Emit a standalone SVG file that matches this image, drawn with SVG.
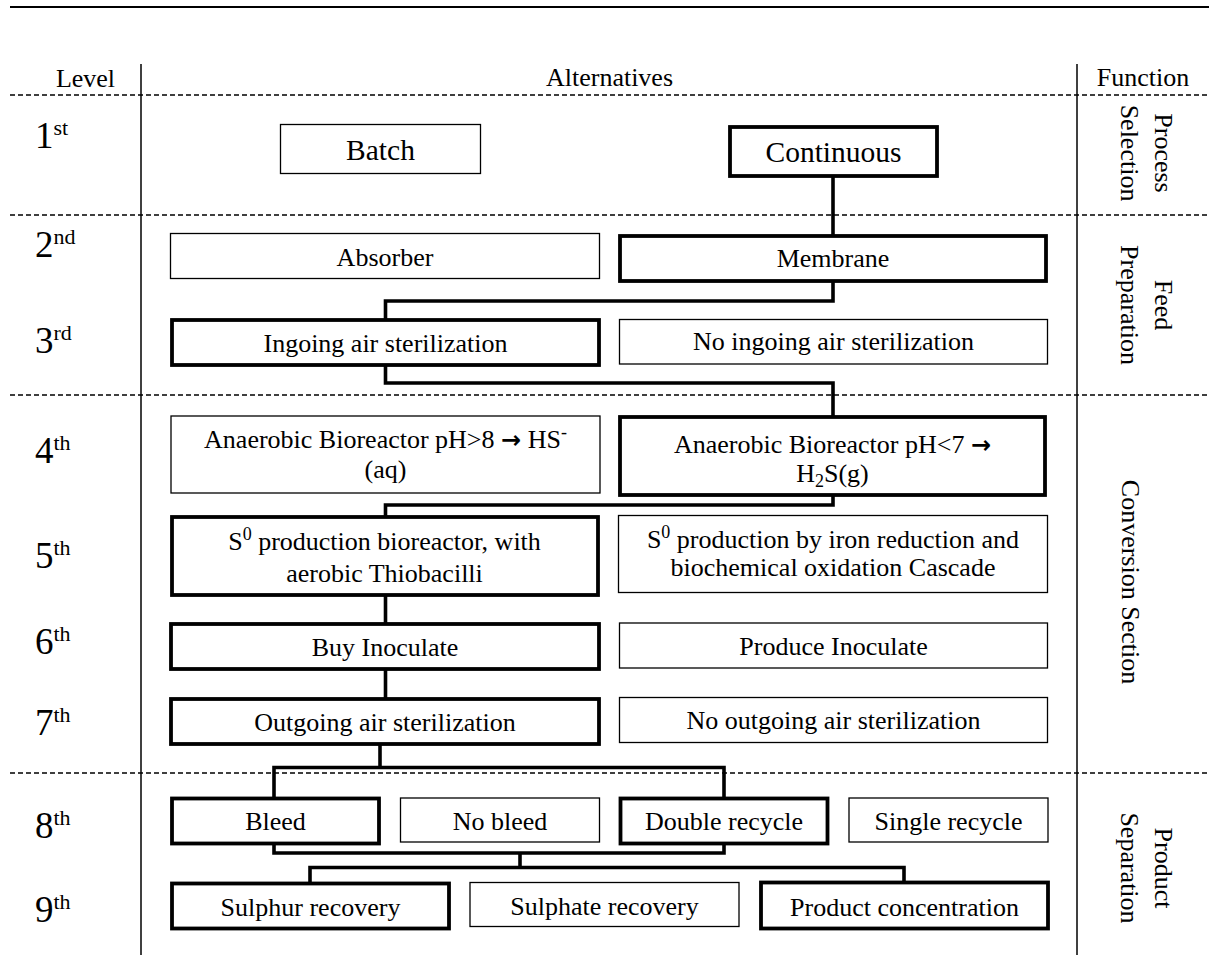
<svg xmlns="http://www.w3.org/2000/svg" width="1209" height="955" viewBox="0 0 1209 955">
  <style>
    .t { font-family: "Liberation Serif", "Times New Roman", serif; font-size: 26px; fill: #000; text-anchor: middle; }
    .big { font-size: 29.5px; }
    .lvl { font-family: "Liberation Serif", "Times New Roman", serif; font-size: 37px; fill: #000; text-anchor: start; }
    .sup { font-size: 22px; }
    .sm { font-size: 18px; }
    .arr { font-family: "DejaVu Sans", sans-serif; font-weight: bold; font-size: 24px; }
    .thin { fill: #fff; stroke: #000; stroke-width: 1.3; }
    .thick { fill: #fff; stroke: #000; stroke-width: 3.8; }
    .conn { fill: none; stroke: #000; stroke-width: 3.6; stroke-linejoin: miter; stroke-linecap: butt; }
    .dash { stroke: #000; stroke-width: 1.3; stroke-dasharray: 5 3; }
    .rule { stroke: #000; stroke-width: 1.5; }
  </style>

  <rect x="0" y="0" width="1209" height="955" fill="#fff"/>

  <!-- table frame -->
  <g id="frame">
    <line x1="10" y1="7" x2="1209" y2="7" stroke="#000" stroke-width="2"/>
    <line class="rule" x1="141" y1="64" x2="141" y2="955"/>
    <line class="rule" x1="1077" y1="64" x2="1077" y2="955"/>
    <line class="dash" x1="10" y1="95" x2="1209" y2="95"/>
    <line class="dash" x1="10" y1="215" x2="1209" y2="215"/>
    <line class="dash" x1="10" y1="395" x2="1209" y2="395"/>
    <line class="dash" x1="10" y1="773" x2="1209" y2="773"/>
  </g>

  <!-- column headers -->
  <g id="headers">
    <text class="t" x="85.5" y="87">Level</text>
    <text class="t" x="609.5" y="86">Alternatives</text>
    <text class="t" x="1143" y="86">Function</text>
  </g>

  <!-- level numbers -->
  <g id="levels">
    <text class="lvl" x="35" y="148">1<tspan class="sup" dy="-13">st</tspan></text>
    <text class="lvl" x="35" y="257">2<tspan class="sup" dy="-13">nd</tspan></text>
    <text class="lvl" x="35" y="353">3<tspan class="sup" dy="-13">rd</tspan></text>
    <text class="lvl" x="35" y="463">4<tspan class="sup" dy="-13">th</tspan></text>
    <text class="lvl" x="35" y="568">5<tspan class="sup" dy="-13">th</tspan></text>
    <text class="lvl" x="35" y="654">6<tspan class="sup" dy="-13">th</tspan></text>
    <text class="lvl" x="35" y="735">7<tspan class="sup" dy="-13">th</tspan></text>
    <text class="lvl" x="35" y="838">8<tspan class="sup" dy="-13">th</tspan></text>
    <text class="lvl" x="35" y="922">9<tspan class="sup" dy="-13">th</tspan></text>
  </g>

  <!-- function column (vertical labels) -->
  <g id="functions">
    <text class="t" transform="translate(1155,153) rotate(90)">Process</text>
    <text class="t" transform="translate(1121,153) rotate(90)">Selection</text>
    <text class="t" transform="translate(1155,305) rotate(90)">Feed</text>
    <text class="t" transform="translate(1121,305) rotate(90)">Preparation</text>
    <text class="t" transform="translate(1122,582) rotate(90)">Conversion Section</text>
    <text class="t" transform="translate(1155,868) rotate(90)">Product</text>
    <text class="t" transform="translate(1121,868) rotate(90)">Separation</text>
  </g>

  <!-- selected path between alternatives -->
  <g id="connectors">
    <path class="conn" d="M833,177 V236"/>
    <path class="conn" d="M833,281 V301 H385.5 V320"/>
    <path class="conn" d="M385.5,365 V383 H833 V417"/>
    <path class="conn" d="M833,495 V505 H385.5 V517"/>
    <path class="conn" d="M385.5,595 V624"/>
    <path class="conn" d="M385.5,669 V699"/>
    <path class="conn" d="M380,744 V767.5"/>
    <path class="conn" d="M274,798.5 V767.5 H724 V798.5"/>
    <path class="conn" d="M274,843.5 V853 H724 V843.5"/>
    <path class="conn" d="M520,853 V867.5"/>
    <path class="conn" d="M310,883.5 V867.5 H904 V882.5"/>
  </g>

  <!-- level 1 -->
  <g id="batch">
    <rect class="thin" x="280.5" y="124.5" width="200" height="49"/>
    <text class="t big" x="380.5" y="160">Batch</text>
  </g>
  <g id="continuous">
    <rect class="thick" x="730" y="127" width="207" height="49"/>
    <text class="t big" x="833.5" y="162">Continuous</text>
  </g>

  <!-- level 2 -->
  <g id="absorber">
    <rect class="thin" x="170.5" y="233.5" width="429" height="45"/>
    <text class="t" x="385" y="266">Absorber</text>
  </g>
  <g id="membrane">
    <rect class="thick" x="620" y="236" width="426" height="45"/>
    <text class="t" x="833" y="267">Membrane</text>
  </g>

  <!-- level 3 -->
  <g id="ingoing-sterilization">
    <rect class="thick" x="172" y="320" width="427" height="45"/>
    <text class="t" x="385.5" y="351.5">Ingoing air sterilization</text>
  </g>
  <g id="no-ingoing-sterilization">
    <rect class="thin" x="619.5" y="319.5" width="428" height="44.5"/>
    <text class="t" x="833.5" y="350">No ingoing air sterilization</text>
  </g>

  <!-- level 4 -->
  <g id="anaerobic-alkaline">
    <rect class="thin" x="171" y="416" width="429" height="77"/>
    <text class="t" x="385.5" y="448">Anaerobic Bioreactor pH&gt;8 <tspan class="arr">→</tspan> HS<tspan class="sm" dy="-10">-</tspan></text>
    <text class="t" x="385.5" y="478">(aq)</text>
  </g>
  <g id="anaerobic-acidic">
    <rect class="thick" x="620" y="417" width="425" height="78"/>
    <text class="t" x="832.5" y="453">Anaerobic Bioreactor pH&lt;7 <tspan class="arr">→</tspan></text>
    <text class="t" x="832.5" y="482">H<tspan class="sm" dy="5">2</tspan><tspan dy="-5">S(g)</tspan></text>
  </g>

  <!-- level 5 -->
  <g id="s0-bioreactor">
    <rect class="thick" x="172" y="517" width="426" height="78"/>
    <text class="t" x="384.5" y="550">S<tspan class="sm" dy="-10">0</tspan><tspan dy="10"> production bioreactor, with</tspan></text>
    <text class="t" x="384.5" y="581.5">aerobic Thiobacilli</text>
  </g>
  <g id="s0-iron-cascade">
    <rect class="thin" x="618.5" y="515.5" width="429" height="77"/>
    <text class="t" x="833" y="548">S<tspan class="sm" dy="-10">0</tspan><tspan dy="10"> production by iron reduction and</tspan></text>
    <text class="t" x="833" y="576">biochemical oxidation Cascade</text>
  </g>

  <!-- level 6 -->
  <g id="buy-inoculate">
    <rect class="thick" x="171" y="624" width="428" height="45"/>
    <text class="t" x="385" y="656">Buy Inoculate</text>
  </g>
  <g id="produce-inoculate">
    <rect class="thin" x="619.5" y="623" width="428" height="45"/>
    <text class="t" x="833.5" y="655">Produce Inoculate</text>
  </g>

  <!-- level 7 -->
  <g id="outgoing-sterilization">
    <rect class="thick" x="171" y="699" width="428" height="45"/>
    <text class="t" x="385" y="731">Outgoing air sterilization</text>
  </g>
  <g id="no-outgoing-sterilization">
    <rect class="thin" x="619.5" y="697.5" width="428" height="45"/>
    <text class="t" x="833.5" y="729">No outgoing air sterilization</text>
  </g>

  <!-- level 8 -->
  <g id="bleed">
    <rect class="thick" x="172" y="798.5" width="207" height="45"/>
    <text class="t" x="275.5" y="830">Bleed</text>
  </g>
  <g id="no-bleed">
    <rect class="thin" x="400.5" y="798" width="199" height="44"/>
    <text class="t" x="500" y="829.5">No bleed</text>
  </g>
  <g id="double-recycle">
    <rect class="thick" x="620.5" y="798.5" width="207" height="45"/>
    <text class="t" x="724" y="830">Double recycle</text>
  </g>
  <g id="single-recycle">
    <rect class="thin" x="849" y="798" width="199" height="44"/>
    <text class="t" x="948.5" y="830">Single recycle</text>
  </g>

  <!-- level 9 -->
  <g id="sulphur-recovery">
    <rect class="thick" x="172" y="883.5" width="277" height="45"/>
    <text class="t" x="310.5" y="916">Sulphur recovery</text>
  </g>
  <g id="sulphate-recovery">
    <rect class="thin" x="470" y="882.5" width="269" height="44"/>
    <text class="t" x="604.5" y="915">Sulphate recovery</text>
  </g>
  <g id="product-concentration">
    <rect class="thick" x="761" y="882.5" width="287" height="46"/>
    <text class="t" x="904.5" y="916">Product concentration</text>
  </g>
</svg>
